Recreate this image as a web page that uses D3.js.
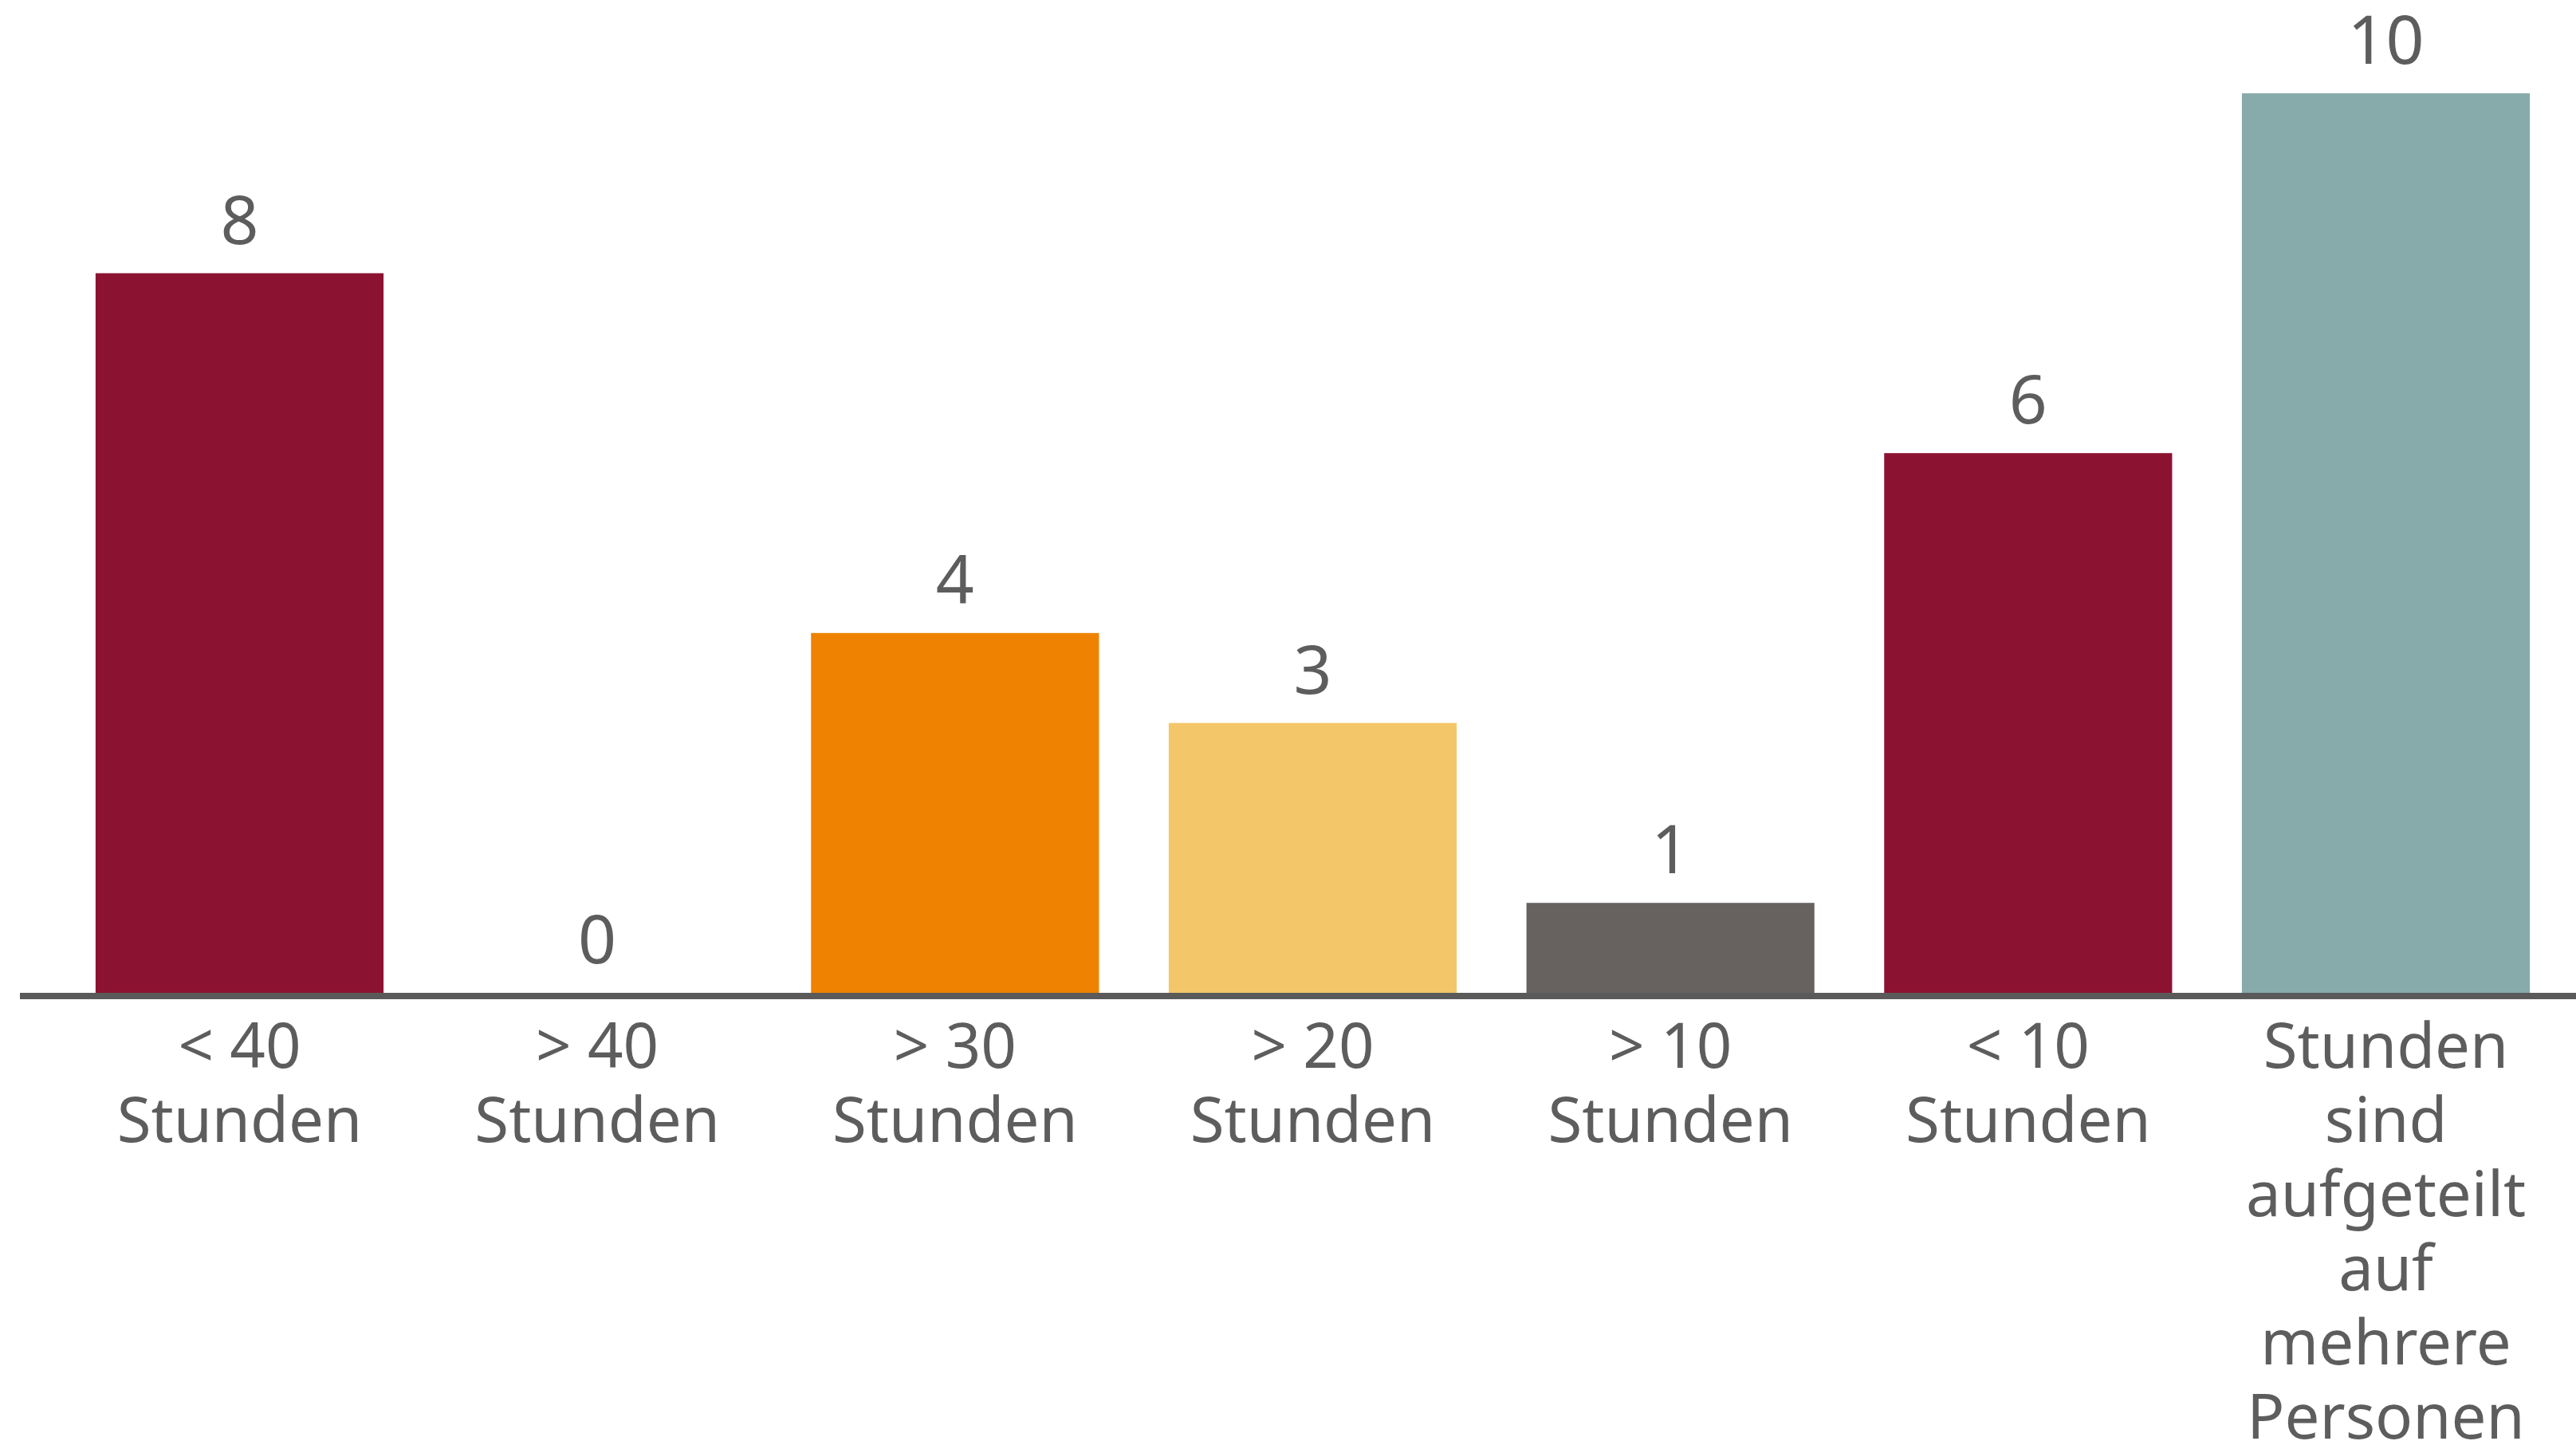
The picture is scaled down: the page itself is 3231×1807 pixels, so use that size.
<!DOCTYPE html>
<html>
<head>
<meta charset="utf-8">
<script src="https://cdn.jsdelivr.net/npm/d3@7"></script>
<style>
  html, body { margin: 0; padding: 0; background: #ffffff; }
  svg { display: block; }
  text { font-family: "Noto Sans", sans-serif; fill: #5d5d5d; }
</style>
</head>
<body>
<svg id="chart"></svg>
<script>
// chart data
const categories = ["< 40 Stunden", "> 40 Stunden", "> 30 Stunden", "> 20 Stunden", "> 10 Stunden", "< 10 Stunden", "Stunden sind aufgeteilt auf mehrere Personen"];
const labelLines = [
  ["< 40", "Stunden"],
  ["> 40", "Stunden"],
  ["> 30", "Stunden"],
  ["> 20", "Stunden"],
  ["> 10", "Stunden"],
  ["< 10", "Stunden"],
  ["Stunden", "sind", "aufgeteilt", "auf", "mehrere", "Personen"]
];
const values = [8, 0, 4, 3, 1, 6, 10];
const colors = ["#8c1232", "#8c1232", "#ef8200", "#f3c66a", "#676260", "#8c1232", "#86abaa"];

let width = 3231,
    height = 1807;

let svg = d3.select("#chart")
  .attr("width", width)
  .attr("height", height);

let x = d3.scaleBand()
  .domain(categories)
  .range([75, 3218])
  .paddingInner(0.195)
  .paddingOuter(0.1);

let y = d3.scaleLinear()
  .domain([0, 10])
  .range([1245, 117]);

// bars
svg.selectAll(".bar")
  .data(values)
  .join("rect")
  .attr("class", "bar")
  .attr("x", function (d, i) { return x(categories[i]) })
  .attr("y", function (d) { return y(d) })
  .attr("width", x.bandwidth())
  .attr("height", function (d) { return y(0) - y(d) })
  .attr("fill", function (d, i) { return colors[i] });

// value labels
svg.selectAll(".value")
  .data(values)
  .join("text")
  .attr("class", "value")
  .attr("x", function (d, i) { return x(categories[i]) + x.bandwidth() / 2 })
  .attr("y", function (d) { return y(d) - 37 })
  .attr("text-anchor", "middle")
  .style("font-size", "84px")
  .text(function (d) { return d });

// x axis baseline
svg.append("line")
  .attr("x1", 25)
  .attr("x2", width)
  .attr("y1", y(0) + 4)
  .attr("y2", y(0) + 4)
  .attr("stroke", "#5a5a5a")
  .attr("stroke-width", 8);

// category labels
let labels = svg.selectAll(".cat")
  .data(labelLines)
  .join("text")
  .attr("class", "cat")
  .attr("text-anchor", "middle")
  .style("font-size", "78px")
  .attr("transform", function (d, i) {
    return `translate(${x(categories[i]) + x.bandwidth() / 2}, 1339)`
  });

labels.selectAll("tspan")
  .data(function (d) { return d })
  .join("tspan")
  .attr("x", 0)
  .attr("y", function (d, i) { return i * 93 })
  .text(function (d) { return d });
</script>
</body>
</html>
